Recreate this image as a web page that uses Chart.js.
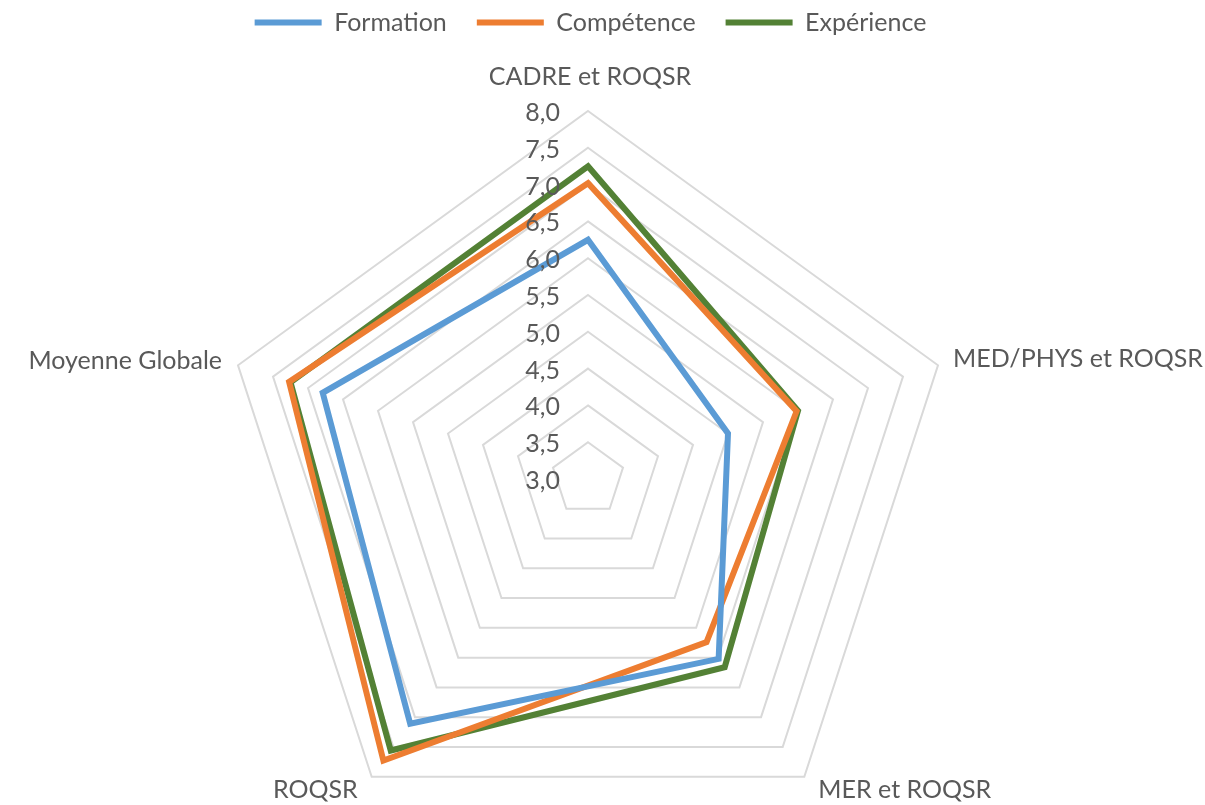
<!DOCTYPE html>
<html>
<head>
<meta charset="utf-8">
<script src="https://cdn.jsdelivr.net/npm/chart.js@4"></script>
<style>
html,body{margin:0;padding:0;background:#fff;}
#wrap{width:1205px;height:805px;}
</style>
</head>
<body>
<div id="wrap"><canvas id="c" width="1205" height="805"></canvas></div>
<script>
const categories = ["CADRE et ROQSR", "MED/PHYS et ROQSR", "MER et ROQSR", "ROQSR", "Moyenne Globale"];
const formation = [6.25, 5.0, 6.02, 7.11, 6.79];
const competence = [7.02, 5.98, 5.74, 7.73, 7.27];
const experience = [7.25, 6.0, 6.16, 7.56, 7.25];
const tickValues = [3.0, 3.5, 4.0, 4.5, 5.0, 5.5, 6.0, 6.5, 7.0, 7.5, 8.0];

const FONT = 'Lato, "Open Sans", sans-serif';
const TXT = '#595959';

// label placement relative to each outer vertex: [dx, dy(baseline), align]
const labelPlacement = [
  [2, -26, 'center'],
  [15, 2, 'left'],
  [14, 21, 'left'],
  [-14, 21, 'right'],
  [-16, 4, 'right']
];

const radarTextPlugin = {
  id: 'radarText',
  afterDatasetsDraw(chart) {
    const s = chart.scales.r;
    const ctx = chart.ctx;
    ctx.save();
    ctx.fillStyle = TXT;
    // tick labels
    ctx.font = '25px ' + FONT;
    ctx.textAlign = 'right';
    ctx.textBaseline = 'alphabetic';
    tickValues.forEach(v => {
      const d = s.getDistanceFromCenterForValue(v);
      ctx.fillText(v.toFixed(1).replace('.', ','), s.xCenter - 28, s.yCenter - d + 10);
    });
    // point labels
    ctx.font = '25px ' + FONT;
    categories.forEach((lab, i) => {
      const p = s.getPointPosition(i, s.drawingArea);
      const [dx, dy, al] = labelPlacement[i];
      ctx.textAlign = al;
      ctx.fillText(lab, p.x + dx, p.y + dy);
    });
    ctx.restore();
  }
};

function ds(label, data, color) {
  return {
    label, data,
    borderColor: color, backgroundColor: color,
    borderWidth: 6, fill: false, pointRadius: 0, pointHoverRadius: 0,
    borderJoinStyle: 'miter', borderCapStyle: 'round'
  };
}

function placeScale(scale) {
  scale.xCenter = 588;
  scale.yCenter = 479;
  scale.drawingArea = 368;
}

new Chart(document.getElementById('c'), {
  type: 'radar',
  data: {
    labels: categories,
    datasets: [
      ds('Formation', formation, '#5B9BD5'),
      ds('Compétence', competence, '#ED7D31'),
      ds('Expérience', experience, '#538135')
    ]
  },
  options: {
    responsive: false,
    animation: false,
    layout: { padding: { left: 0, right: 24, top: -20, bottom: 0 } },
    plugins: {
      legend: {
        position: 'top',
        labels: {
          usePointStyle: true,
          pointStyle: 'line',
          pointStyleWidth: 67,
          boxHeight: 6,
          color: TXT,
          font: { family: FONT, size: 25 },
          padding: 30
        }
      },
      tooltip: { enabled: false }
    },
    scales: {
      r: {
        min: 3, max: 8,
        ticks: { stepSize: 0.5, display: false },
        grid: { color: '#D9D9D9', lineWidth: 2 },
        angleLines: { display: false },
        pointLabels: { display: false },
        afterSetDimensions: placeScale,
        afterFit: placeScale
      }
    }
  },
  plugins: [radarTextPlugin]
});
</script>
</body>
</html>
